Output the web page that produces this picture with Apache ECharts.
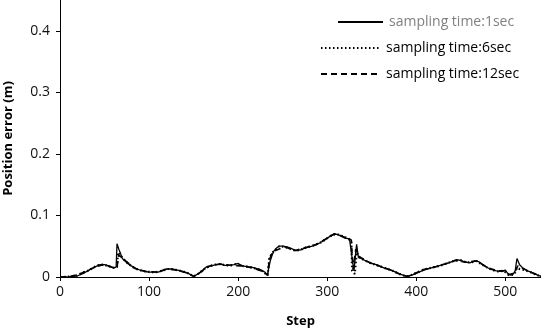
<!DOCTYPE html>
<html><head><meta charset="utf-8">
<script src="https://cdn.jsdelivr.net/npm/echarts@6/dist/echarts.min.js"></script>
<style>html,body{margin:0;padding:0;background:#fff}#c{width:541px;height:329px}</style>
</head><body><div id="c"></div>
<script>
var steps1 = [0,10,20,25,30,35,40,45,50,55,60,63,64,66,68,70,75,80,85,90,95,100,105,110,115,120,125,130,135,140,145,150,155,160,165,170,175,180,185,190,195,200,205,210,215,220,225,230,233,234,236,238,240,243,246,250,255,260,265,270,275,280,285,290,295,300,305,308,312,316,320,325,327,328,330,332,333,335,338,340,345,350,355,360,365,370,375,380,385,390,395,400,405,410,415,420,425,430,435,440,445,450,455,460,465,470,475,480,485,490,495,500,503,506,509,511,513,516,520,525,530,535,540];
var err1 = [0,0,0.002,0.005,0.009,0.013,0.017,0.02,0.02,0.018,0.015,0.016,0.054,0.045,0.038,0.03,0.023,0.018,0.014,0.011,0.009,0.008,0.008,0.008,0.01,0.013,0.013,0.012,0.01,0.008,0.005,0.001,0.005,0.011,0.017,0.018,0.02,0.021,0.019,0.019,0.02,0.022,0.018,0.017,0.016,0.014,0.012,0.008,0.003,0.012,0.026,0.035,0.042,0.047,0.05,0.05,0.049,0.046,0.043,0.044,0.047,0.049,0.051,0.054,0.058,0.063,0.068,0.07,0.069,0.066,0.063,0.062,0.06,0.03,0.01,0.04,0.053,0.032,0.03,0.028,0.025,0.022,0.02,0.017,0.014,0.012,0.009,0.006,0.003,0.001,0.003,0.006,0.009,0.012,0.014,0.016,0.018,0.02,0.022,0.025,0.028,0.027,0.024,0.023,0.026,0.025,0.02,0.015,0.012,0.01,0.009,0.011,0.005,0.003,0.005,0.01,0.03,0.02,0.014,0.01,0.007,0.004,0.001];

var steps6 = [0,6,12,18,24,30,36,42,48,54,60,64,65,66,72,78,84,90,96,102,108,114,120,126,132,138,144,150,156,162,168,174,180,186,192,198,204,210,216,222,228,233,234,235,237,240,246,252,258,264,270,276,282,288,294,300,306,312,318,324,327,328,331,333,336,342,348,354,360,366,372,378,384,390,396,402,408,414,420,426,432,438,444,450,456,462,468,474,480,486,492,498,504,510,513,516,522,528,534,540];
var err6 = [0,0,0.001,0.002,0.006,0.009,0.014,0.019,0.02,0.018,0.015,0.016,0.04,0.04,0.028,0.02,0.014,0.011,0.009,0.008,0.008,0.01,0.013,0.013,0.011,0.009,0.006,0.001,0.006,0.013,0.018,0.02,0.021,0.019,0.019,0.021,0.018,0.017,0.015,0.013,0.009,0.002,0.001,0.03,0.036,0.042,0.05,0.049,0.046,0.043,0.044,0.048,0.05,0.053,0.057,0.063,0.069,0.069,0.066,0.062,0.058,0.01,0.005,0.04,0.032,0.027,0.023,0.02,0.017,0.014,0.011,0.007,0.003,0.001,0.004,0.008,0.012,0.014,0.016,0.018,0.021,0.024,0.027,0.027,0.024,0.024,0.026,0.02,0.015,0.011,0.009,0.01,0.003,0.004,0.015,0.013,0.011,0.008,0.004,0.001];

var steps12 = [0,12,24,36,48,60,64,66,72,84,96,108,120,132,144,150,156,168,180,192,204,216,228,233,235,238,240,252,264,276,288,300,308,312,324,327,329,332,335,348,360,372,384,390,396,408,420,432,444,456,468,480,492,500,504,510,514,516,528,540];
var err12 = [0,0.001,0.006,0.014,0.02,0.015,0.016,0.036,0.028,0.014,0.009,0.008,0.013,0.011,0.006,0.001,0.006,0.018,0.021,0.019,0.018,0.015,0.009,0.003,0.028,0.038,0.042,0.049,0.043,0.048,0.053,0.063,0.07,0.069,0.062,0.06,0.012,0.045,0.034,0.023,0.017,0.011,0.003,0.001,0.004,0.012,0.016,0.021,0.027,0.024,0.026,0.015,0.01,0.01,0.004,0.006,0.018,0.016,0.008,0.001];

var xTicks = [0,100,200,300,400,500];
var yTicks = [0,0.1,0.2,0.3,0.4];

function pairs(xs, ys){ return xs.map(function(x,i){ return [x, ys[i]]; }); }

var font = '"Open Sans", "Noto Sans", sans-serif';
var chart = echarts.init(document.getElementById('c'), null, {renderer:'canvas'});
var legendCommon = {
  orient: 'vertical', itemHeight: 10, itemGap: 0, padding: 0,
  textStyle: {fontFamily: font, fontSize: 14, color: '#000', padding: [0,0,0,1]},
  itemStyle: {opacity: 0},
  selectedMode: false
};
chart.setOption({
  animation: false,
  backgroundColor: '#fff',
  grid: {left: 60, right: 0, top: 0, bottom: 52, containLabel: false, outerBoundsMode: 'none'},
  legend: [
    Object.assign({}, legendCommon, {data: ['sampling time:1sec'], left: 337, top: 15, itemWidth: 45,
      textStyle: {fontFamily: font, fontSize: 14, color: '#808080', padding: [0,0,0,1]}}),
    Object.assign({}, legendCommon, {data: ['sampling time:6sec'], left: 320, top: 41, itemWidth: 59}),
    Object.assign({}, legendCommon, {data: ['sampling time:12sec'], left: 320, top: 67, itemWidth: 59})
  ],
  xAxis: {
    type: 'value', min: 0, max: 540, interval: 100,
    name: 'Step', nameLocation: 'middle', nameGap: 38,
    nameTextStyle: {fontFamily: font, fontSize: 13, fontWeight: 'bold', color: '#000'},
    axisLine: {lineStyle: {color: '#000', width: 1}},
    axisTick: {show: true, length: 4, inside: false, lineStyle: {color: '#000'}},
    axisLabel: {showMaxLabel: false, fontFamily: font, fontSize: 14, color: '#111', margin: 8,
      formatter: function(v){ return xTicks.indexOf(v) >= 0 ? String(v) : ''; }},
    splitLine: {show: false}
  },
  yAxis: {
    type: 'value', min: 0, max: 0.45, interval: 0.1,
    name: 'Position error (m)', nameLocation: 'middle', nameGap: 45, nameRotate: 90,
    nameTextStyle: {fontFamily: font, fontSize: 13, fontWeight: 'bold', color: '#000'},
    axisLine: {show: true, lineStyle: {color: '#000', width: 1}},
    axisTick: {show: true, length: 4, inside: false, lineStyle: {color: '#000'}},
    axisLabel: {showMaxLabel: false, fontFamily: font, fontSize: 14, color: '#111', margin: 10,
      formatter: function(v){ var r = Math.round(v*10)/10; return yTicks.indexOf(r) >= 0 && Math.abs(r - v) < 1e-9 ? String(r) : ''; }},
    splitLine: {show: false}
  },
  series: [
    {name: 'sampling time:1sec', type: 'line', symbol: 'none', data: pairs(steps1, err1),
      lineStyle: {color: '#000', width: 1.3, type: 'solid'}, itemStyle: {color: '#000'}, z: 3},
    {name: 'sampling time:6sec', type: 'line', symbol: 'none', data: pairs(steps6, err6),
      lineStyle: {color: '#000', width: 2.2, type: [1.5, 2.5]}, itemStyle: {color: '#000'}, z: 2},
    {name: 'sampling time:12sec', type: 'line', symbol: 'none', data: pairs(steps12, err12),
      lineStyle: {color: '#000', width: 1.6, type: [6, 4]}, itemStyle: {color: '#000'}, z: 1}
  ]
});
</script></body></html>
